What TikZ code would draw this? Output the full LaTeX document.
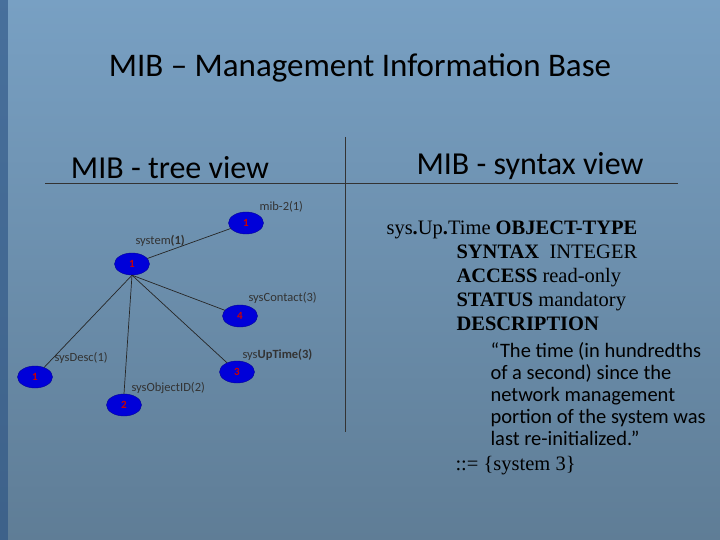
\documentclass[tikz,border=0pt]{standalone}
\usepackage{fontspec}
\setmainfont{Carlito}
\newfontfamily\serif{Liberation Serif}
\usetikzlibrary{shapes.geometric}
\definecolor{skytop}{RGB}{120,160,195}
\definecolor{skybot}{RGB}{95,125,150}
\definecolor{edgebar}{RGB}{40,80,130}
\begin{document}
\begin{tikzpicture}[x=1pt,y=-1pt,
  leaf/.style={ellipse,draw=blue!60!black,fill=blue!85!black,minimum width=35pt,minimum height=22pt,inner sep=0pt,text=red!80!black,font=\fontsize{11}{12}\selectfont\bfseries},
  lbl/.style={font=\fontsize{12.5}{14}\selectfont,text=black!80,anchor=west},
  edge/.style={draw=black!85,line width=0.7pt}]
\shade[top color=skytop,bottom color=skybot] (0,0) rectangle (720,540);
\fill[edgebar,opacity=0.6] (0,0) rectangle (8,540);
\useasboundingbox (0,0) rectangle (720,540);
\node (title) at (360,68) {\fontsize{33}{36}\selectfont MIB -- Management Information Base};
\node (tv) at (170,168) {\fontsize{32}{36}\selectfont MIB - tree view};
\node (sv) at (530,166) {\fontsize{32}{36}\selectfont MIB - syntax view};
\coordinate (h1) at (45,183); \coordinate (h2) at (678,183);
\coordinate (v1) at (345,137); \coordinate (v2) at (345,432);
\draw[black!80,line width=0.8pt] (h1) -- (h2);
\draw[black!80,line width=0.8pt] (v1) -- (v2);
\node[leaf] (mib) at (246,223) {1};
\node[leaf] (sys) at (132,264) {1};
\node[leaf] (con) at (240,316) {4};
\node[leaf] (up) at (237,372) {3};
\node[leaf] (desc) at (35,377) {1};
\node[leaf] (oid) at (124,405) {2};
\draw[edge] (sys) -- (mib);
\draw[edge] (sys.south) -- (con);
\draw[edge] (sys.south) -- (up);
\draw[edge] (sys.south) -- (desc);
\draw[edge] (sys.south) -- (oid.north);
\node[lbl] (l1) at (256,207) {mib-2(1)};
\node[lbl] (l2) at (132,241) {system\textbf{(1)}};
\node[lbl] (l3) at (245,298) {sysContact(3)};
\node[lbl] (l4) at (239,355) {sys\textbf{UpTime(3)}};
\node[lbl] (l5) at (51,358) {sysDesc(1)};
\node[lbl] (l6) at (128,388) {sysObjectID(2)};
\node[anchor=north west,align=left,font=\serif\fontsize{20.5}{23.5}\selectfont] (s1) at (383,217)
 {sys\textbf{.}Up\textbf{.}Time \textbf{OBJECT-TYPE}};
\node[anchor=north west,align=left,font=\serif\fontsize{20.5}{24}\selectfont] (s2) at (453,241)
 {\textbf{SYNTAX}\ \ INTEGER\\\textbf{ACCESS} read-only\\\textbf{STATUS} mandatory\\\textbf{DESCRIPTION}};
\node[anchor=north west,align=left,font=\fontsize{20.5}{22}\selectfont] (s3) at (487,339)
 {``The time (in hundredths\\of a second) since the\\network management\\portion of the system was\\last re-initialized.''};
\node[anchor=north west,font=\serif\fontsize{20.5}{22}\selectfont] (s4) at (452,453) {::= \{system 3\}};
\end{tikzpicture}
\end{document}
